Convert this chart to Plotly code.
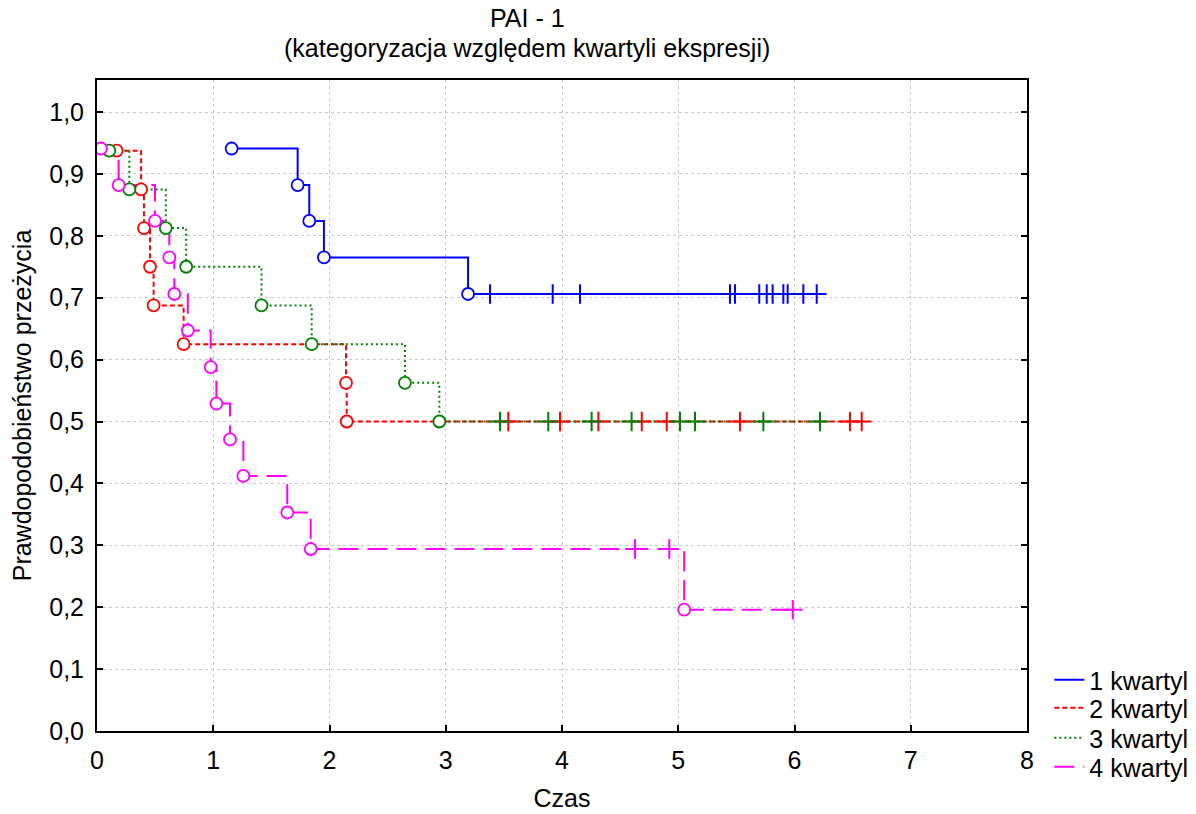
import plotly.graph_objects as go

# ---- data ----
groups = ["1 kwartyl", "2 kwartyl", "3 kwartyl", "4 kwartyl"]

q1_event_t = [1.158, 1.726, 1.826, 1.952, 3.192]
q1_event_s = [0.941, 0.882, 0.824, 0.765, 0.706]
q1_cens_t = [3.381, 3.920, 4.155, 5.445, 5.488, 5.697, 5.761, 5.812, 5.904, 5.941, 6.076, 6.191]

q2_event_t = [0.169, 0.379, 0.404, 0.456, 0.487, 0.745, 2.142, 2.148]
q2_event_s = [0.9375, 0.875, 0.8125, 0.75, 0.6875, 0.625, 0.5625, 0.5]
q2_cens_t = [3.538, 3.983, 4.313, 4.686, 4.901, 5.531, 6.477, 6.578]

q3_event_t = [0.106, 0.278, 0.592, 0.767, 1.415, 1.847, 2.649, 2.945]
q3_event_s = [0.9375, 0.875, 0.8125, 0.75, 0.6875, 0.625, 0.5625, 0.5]
q3_cens_t = [3.467, 3.882, 4.255, 4.599, 5.015, 5.144, 5.732, 6.219]

q4_event_t = [0.034, 0.186, 0.499, 0.622, 0.665, 0.781, 0.978, 1.027,
              1.144, 1.259, 1.637, 1.838, 5.051]
q4_event_s = [0.941, 0.882, 0.824, 0.765, 0.706, 0.647, 0.588, 0.529,
              0.471, 0.412, 0.353, 0.294, 0.196]
q4_cens_t = [4.628, 4.923, 5.985]

event_t = [q1_event_t, q2_event_t, q3_event_t, q4_event_t]
event_s = [q1_event_s, q2_event_s, q3_event_s, q4_event_s]
cens_t = [q1_cens_t, q2_cens_t, q3_cens_t, q4_cens_t]

# ---- styles ----
colors = ["#0000ff", "#ff0000", "#008000", "#ff00ff"]
dashes = ["solid", "5px,3px", "2px,3px", "20px,9px"]
legend_ids = ["legend", "legend2", "legend3", "legend4"]
legend_y = [0.0783, 0.0353, -0.0108, -0.0553]
FONT = "Liberation Sans, Arial, sans-serif"
FS = 25


def surv_at(t, ets, ess):
    s = None
    for et, es in zip(ets, ess):
        if et <= t:
            s = es
    return s


fig = go.Figure()

for i, name in enumerate(groups):
    ets, ess, cts = event_t[i], event_s[i], cens_t[i]
    cs = [surv_at(c, ets, ess) for c in cts]
    pts = sorted([(t, s) for t, s in zip(ets, ess)] + [(t, s) for t, s in zip(cts, cs)])
    fig.add_trace(go.Scatter(
        x=[p[0] for p in pts], y=[p[1] for p in pts],
        mode="lines", line=dict(color=colors[i], width=2, dash=dashes[i], shape="hv"),
        name=name, showlegend=True, legend=legend_ids[i], hoverinfo="skip"))

for i, name in enumerate(groups):
    ets, ess, cts = event_t[i], event_s[i], cens_t[i]
    cs = [surv_at(c, ets, ess) for c in cts]
    fig.add_trace(go.Scatter(
        x=cts, y=cs, mode="markers", showlegend=False,
        marker=dict(symbol="cross-thin", size=14, color=colors[i],
                    line=dict(color=colors[i], width=2))))
    fig.add_trace(go.Scatter(
        x=ets, y=ess, mode="markers", showlegend=False,
        marker=dict(symbol="circle", size=12, color="white",
                    line=dict(color=colors[i], width=1.8))))

legend_common = dict(x=1.024, xanchor="left", yanchor="middle",
                     font=dict(size=FS, family=FONT, color="black"),
                     bgcolor="rgba(0,0,0,0)", borderwidth=0)

fig.update_layout(
    width=1196, height=814,
    margin=dict(l=97, r=169, t=80, b=83, autoexpand=False),
    paper_bgcolor="white", plot_bgcolor="white",
    font=dict(family=FONT, size=FS, color="black"),
    separators=", ",
    showlegend=True,
    legend=dict(y=legend_y[0], **legend_common),
    legend2=dict(y=legend_y[1], **legend_common),
    legend3=dict(y=legend_y[2], **legend_common),
    legend4=dict(y=legend_y[3], **legend_common),
    annotations=[
        dict(text="PAI - 1", x=0.4624, y=1.0952, xref="paper", yref="paper",
             xanchor="center", yanchor="middle", showarrow=False, font=dict(size=FS)),
        dict(text="(kategoryzacja względem kwartyli ekspresji)", x=0.4624, y=1.0492,
             xref="paper", yref="paper", xanchor="center", yanchor="middle",
             showarrow=False, font=dict(size=FS)),
    ],
)

fig.update_xaxes(
    range=[0, 8], tickmode="linear", tick0=0, dtick=1, automargin=False,
    showline=True, linecolor="black", linewidth=2, mirror=True,
    ticks="inside", ticklen=6, tickwidth=2, tickcolor="black",
    ticklabelstandoff=6, tickfont=dict(size=FS),
    showgrid=True, gridcolor="#c8c8c8", gridwidth=1, griddash="dot",
    zeroline=False,
    title=dict(text="Czas", standoff=16, font=dict(size=FS)),
)
fig.update_yaxes(
    range=[0, 1.0517], tickmode="linear", tick0=0, dtick=0.1, tickformat=".1f",
    automargin=False,
    showline=True, linecolor="black", linewidth=2, mirror="ticks",
    ticks="inside", ticklen=6, tickwidth=2, tickcolor="black",
    ticklabelstandoff=6, tickfont=dict(size=FS),
    showgrid=True, gridcolor="#c8c8c8", gridwidth=1, griddash="dot",
    zeroline=False,
    title=dict(text="Prawdopodobieństwo przeżycia", standoff=10, font=dict(size=FS)),
)

fig.write_html("out.html")
